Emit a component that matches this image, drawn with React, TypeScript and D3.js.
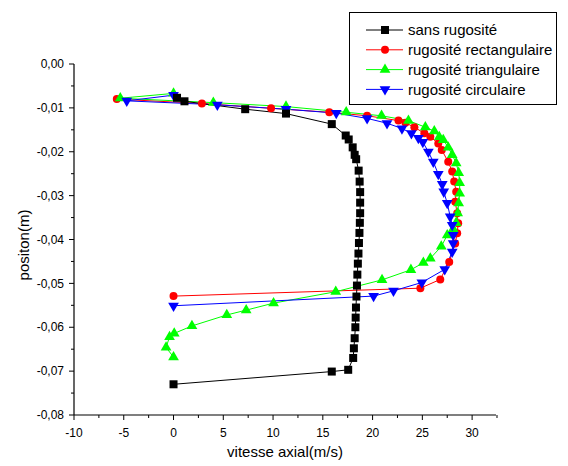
import React from 'react';
import * as d3 from 'd3';

const W = 568;
const H = 466;

const xTicks = [-10, -5, 0, 5, 10, 15, 20, 25, 30];
const xMinorTicks = [-7.5, -2.5, 2.5, 7.5, 12.5, 17.5, 22.5, 27.5, 32.5];
const yTicks = [0, -0.01, -0.02, -0.03, -0.04, -0.05, -0.06, -0.07, -0.08];
const yMinorTicks = [-0.005, -0.015, -0.025, -0.035, -0.045, -0.055, -0.065, -0.075];

const xTitle = 'vitesse axial(m/s)';
const yTitle = 'positon(m)';

const seriesNames = [
  'sans rugosité',
  'rugosité rectangulaire',
  'rugosité triangulaire',
  'rugosité circulaire',
];

// [vitesse axiale (m/s), position (m)]
const sansRugosite: [number, number][] = [
  [0.35, -0.0077], [1.1, -0.0085], [7.2, -0.0103], [11.3, -0.0113], [15.9, -0.0137],
  [17.3, -0.0163], [17.6, -0.0172], [18.0, -0.019], [18.2, -0.0207], [18.35, -0.0217],
  [18.6, -0.0243], [18.7, -0.0268], [18.75, -0.0292], [18.75, -0.0316], [18.75, -0.034],
  [18.72, -0.0362], [18.68, -0.0385], [18.63, -0.0408], [18.58, -0.0432], [18.52, -0.0455],
  [18.47, -0.048], [18.43, -0.0505], [18.38, -0.053], [18.33, -0.0555], [18.3, -0.0578],
  [18.27, -0.06], [18.2, -0.0625], [18.12, -0.0648], [18.05, -0.067], [17.55, -0.0697],
  [15.9, -0.0701], [0.0, -0.073],
];

const rugositeRectangulaire: [number, number][] = [
  [-5.7, -0.008], [2.85, -0.009], [9.8, -0.0101], [15.65, -0.011], [19.45, -0.0118],
  [22.6, -0.0129], [23.3, -0.0134], [24.2, -0.0144], [25.2, -0.0158], [25.8, -0.0166],
  [26.6, -0.0181], [26.95, -0.0196], [27.6, -0.0223], [28.0, -0.0245], [28.2, -0.0268],
  [28.4, -0.0291], [28.3, -0.0314], [28.5, -0.034], [28.6, -0.0363], [28.5, -0.0386],
  [28.3, -0.0409], [27.7, -0.0451], [26.8, -0.0491], [24.8, -0.0511], [0.0, -0.0529],
];

const rugositeTriangulaire: [number, number][] = [
  [0.0, -0.0067], [-5.35, -0.0078], [4.0, -0.0088], [11.3, -0.0097], [17.35, -0.011],
  [20.9, -0.0118], [23.6, -0.0129], [25.3, -0.0144], [26.2, -0.0153], [26.7, -0.0166],
  [27.1, -0.0173], [27.6, -0.019], [28.0, -0.0207], [28.4, -0.0226], [28.65, -0.0248],
  [28.75, -0.0271], [28.75, -0.0295], [28.65, -0.0317], [28.55, -0.034], [28.4, -0.0362],
  [28.1, -0.0376], [27.5, -0.039], [26.9, -0.0416], [25.8, -0.0443], [25.1, -0.0453],
  [23.85, -0.0469], [20.95, -0.0492], [16.3, -0.0519], [10.05, -0.0545], [7.3, -0.0561],
  [5.35, -0.0572], [1.85, -0.0597], [0.07, -0.0614], [-0.4, -0.0622], [-0.75, -0.0646],
  [0.0, -0.0668],
];

const rugositeCirculaire: [number, number][] = [
  [0.0, -0.0071], [-4.7, -0.0084], [4.4, -0.0093], [11.3, -0.0103], [16.35, -0.0112],
  [19.45, -0.0124], [21.45, -0.0135], [22.95, -0.0147], [23.9, -0.0158], [24.6, -0.0169],
  [25.05, -0.0178], [25.6, -0.02], [26.1, -0.0223], [26.6, -0.0251], [27.0, -0.0274],
  [27.15, -0.0291], [27.5, -0.0317], [27.8, -0.0348], [28.0, -0.0367], [28.1, -0.039],
  [28.1, -0.0409], [28.0, -0.0428], [27.25, -0.0468], [24.95, -0.0498], [22.1, -0.0517],
  [20.1, -0.0529], [0.0, -0.0551],
];

const seriesData = [sansRugosite, rugositeRectangulaire, rugositeTriangulaire, rugositeCirculaire];
const seriesColors = ['#000000', '#ff0000', '#00ff00', '#0000ff'];
const seriesShapes = ['square', 'circle', 'triangle', 'triangleDown'];
// draw order: red, green, blue, then black on top
const drawOrder = [1, 2, 3, 0];

const FONT = 'Liberation Sans, Arial, sans-serif';

function Marker({ shape, x, y, color }: { shape: string; x: number; y: number; color: string }) {
  if (shape === 'square') {
    return <rect x={x - 4} y={y - 4} width={8} height={8} fill={color} />;
  }
  if (shape === 'circle') {
    return <circle cx={x} cy={y} r={4} fill={color} />;
  }
  const path = d3.symbol().type(d3.symbolTriangle).size(50)() as string;
  const rot = shape === 'triangleDown' ? 180 : 0;
  return <path d={path} transform={`translate(${x},${y}) rotate(${rot})`} fill={color} />;
}

export default function App() {
  const x = d3.scaleLinear().domain([-10, 32.4]).range([74, 496]);
  const y = d3.scaleLinear().domain([-0.08, 0]).range([415, 64]);
  const line = d3
    .line<[number, number]>()
    .x((d) => x(d[0]))
    .y((d) => y(d[1]));
  const fmtY = (v: number) => (v === 0 ? '0,00' : d3.format('.2f')(v).replace('.', ',').replace('−', '-'));

  const x0 = x(-10);
  const y0 = y(-0.08);

  return (
    <svg
      width={W}
      height={H}
      style={{ position: 'absolute', left: 0, top: 0, background: '#fff' }}
      fontFamily={FONT}
    >
      <rect x={0} y={0} width={W} height={H} fill="#fff" />
      {drawOrder.map((i) => (
        <path
          key={'l' + i}
          d={line(seriesData[i]) as string}
          fill="none"
          stroke={seriesColors[i]}
          strokeWidth={1}
        />
      ))}
      {drawOrder.map((i) => (
        <g key={'m' + i}>
          {seriesData[i].map((d, j) => (
            <Marker key={j} shape={seriesShapes[i]} x={x(d[0])} y={y(d[1])} color={seriesColors[i]} />
          ))}
        </g>
      ))}

      <line x1={x0} x2={x0} y1={y(0)} y2={y0} stroke="#000" strokeWidth={1.2} />
      <line x1={x0} x2={x(32.4)} y1={y0} y2={y0} stroke="#000" strokeWidth={1.2} />
      {xTicks.map((t) => (
        <g key={'xt' + t}>
          <line x1={x(t)} x2={x(t)} y1={y0} y2={y0 + 5} stroke="#000" strokeWidth={1} />
          <text x={x(t)} y={y0 + 22} textAnchor="middle" fontSize={12} fill="#000">
            {String(t)}
          </text>
        </g>
      ))}
      {xMinorTicks.map((t) => (
        <line key={'xm' + t} x1={x(t)} x2={x(t)} y1={y0} y2={y0 + 3} stroke="#000" strokeWidth={1} />
      ))}
      {yTicks.map((t) => (
        <g key={'yt' + t}>
          <line x1={x0 - 5} x2={x0} y1={y(t)} y2={y(t)} stroke="#000" strokeWidth={1} />
          <text x={x0 - 10} y={y(t)} dy="0.35em" textAnchor="end" fontSize={12} fill="#000">
            {fmtY(t)}
          </text>
        </g>
      ))}
      {yMinorTicks.map((t) => (
        <line key={'ym' + t} x1={x0 - 3} x2={x0} y1={y(t)} y2={y(t)} stroke="#000" strokeWidth={1} />
      ))}

      <text x={285} y={457} textAnchor="middle" fontSize={15} fill="#000">
        {xTitle}
      </text>
      <text
        transform={`translate(29,${245}) rotate(-90)`}
        textAnchor="middle"
        fontSize={15}
        fill="#000"
      >
        {yTitle}
      </text>

      <rect x={349.5} y={12.5} width={207} height={92} fill="#fff" stroke="#000" strokeWidth={1} />
      {seriesNames.map((name, i) => {
        const ly = 30 + i * 19.8;
        return (
          <g key={'lg' + i}>
            <line x1={366} x2={403} y1={ly} y2={ly} stroke={seriesColors[i]} strokeWidth={1} />
            <Marker shape={seriesShapes[i]} x={385} y={ly} color={seriesColors[i]} />
            <text x={408} y={ly} dy="0.35em" fontSize={15} fill="#000">
              {name}
            </text>
          </g>
        );
      })}
    </svg>
  );
}
